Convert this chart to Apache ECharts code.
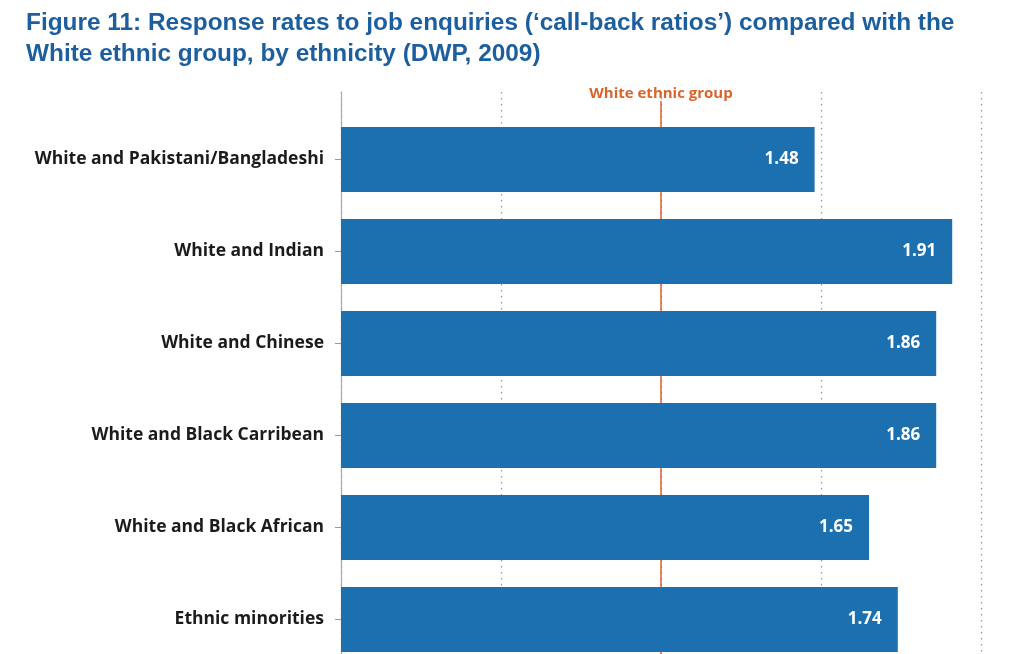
<!DOCTYPE html>
<html>
<head>
<meta charset="utf-8">
<script src="https://cdn.jsdelivr.net/npm/echarts@6/dist/echarts.min.js"></script>
<style>html,body{margin:0;padding:0;background:#fff}#c{width:1024px;height:654px}</style>
</head>
<body>
<div id="c"></div>
<script>
const titleText = 'Figure 11: Response rates to job enquiries (\u2018call-back ratios\u2019) compared with the\nWhite ethnic group, by ethnicity (DWP, 2009)';
const categories = ['White and Pakistani/Bangladeshi','White and Indian','White and Chinese','White and Black Carribean','White and Black African','Ethnic minorities'];
const values = [1.48, 1.91, 1.86, 1.86, 1.65, 1.74];
const referenceValue = 1.0;
const referenceLabel = 'White ethnic group';
const axisMin = 0, axisMax = 2, axisStep = 0.5;

const chart = echarts.init(document.getElementById('c'), null, {renderer:'canvas'});
chart.setOption({
  backgroundColor:'#fff',
  animation:false,
  title:{text:titleText,left:21,top:3,textStyle:{fontFamily:'Liberation Sans',fontWeight:'bold',fontSize:24.4,lineHeight:31,color:'#1d5f9e'}},
  grid:[
    {left:341,right:43,top:113.5,height:552,outerBoundsMode:'none'},
    {left:341,right:43,top:92,height:580,outerBoundsMode:'none'},
    {left:341,right:43,top:101,height:570,outerBoundsMode:'none'}
  ],
  xAxis:[
    {gridIndex:0,type:'value',min:axisMin,max:axisMax,interval:axisStep,show:false,splitLine:{show:false}},
    {gridIndex:1,type:'value',min:axisMin,max:axisMax,interval:axisStep,axisLine:{show:false},axisTick:{show:false},axisLabel:{show:false},
      splitLine:{show:true,lineStyle:{color:'#9a9a9a',width:1.3,type:[1.5,4.5]}}},
    {gridIndex:2,type:'value',min:axisMin,max:axisMax,show:false,splitLine:{show:false}}
  ],
  yAxis:[
    {gridIndex:0,type:'category',data:categories,inverse:true,
      axisLine:{show:false},
      axisTick:{show:true,alignWithLabel:true,length:6,lineStyle:{color:'#999'}},
      axisLabel:{margin:17,padding:[4,0,0,0],fontFamily:'Open Sans',fontWeight:'bold',fontSize:17.5,color:'#1b1b1b'},
      splitLine:{show:false}},
    {gridIndex:1,type:'value',min:0,max:1,axisLine:{show:true,lineStyle:{color:'#aaa',width:1.2}},axisTick:{show:false},axisLabel:{show:false},splitLine:{show:false}},
    {gridIndex:2,type:'value',min:0,max:1,show:false,splitLine:{show:false}}
  ],
  series:[
    {type:'line',xAxisIndex:2,yAxisIndex:2,data:[],silent:true,z:3,
      markLine:{symbol:'none',silent:true,
        lineStyle:{color:'#d9652b',width:1.5,type:'solid'},
        label:{show:true,position:'end',formatter:referenceLabel,distance:0,color:'#d9652b',fontFamily:'Open Sans',fontWeight:'bold',fontSize:15},
        data:[{xAxis:referenceValue}]}},
    {type:'bar',xAxisIndex:0,yAxisIndex:0,data:values,barWidth:65,z:5,
      itemStyle:{color:'#1d70b0'},
      label:{show:true,position:'insideRight',distance:16,padding:[4,0,0,0],color:'#fff',fontFamily:'Open Sans',fontWeight:'bold',fontSize:17,formatter:p=>p.value.toFixed(2)}}
  ]
});
</script>
</body>
</html>
